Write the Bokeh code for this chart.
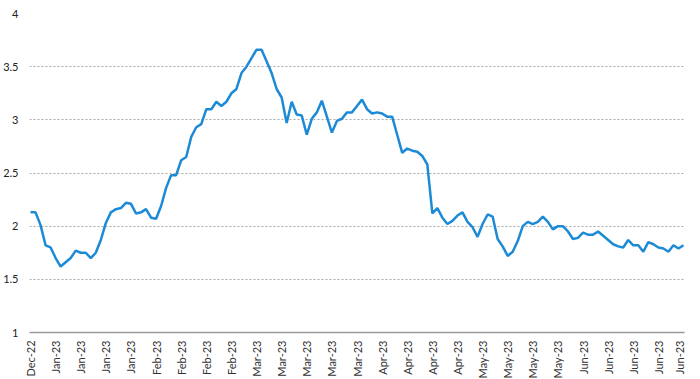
import math
from bokeh.plotting import figure
from bokeh.models import Range1d, FixedTicker, ColumnDataSource
from bokeh.embed import file_html
from bokeh.resources import INLINE

values = [2.13, 2.13, 2.01, 1.82, 1.80, 1.70, 1.62, 1.66, 1.70, 1.77,
          1.75, 1.75, 1.70, 1.75, 1.87, 2.03, 2.13, 2.16, 2.17, 2.22,
          2.21, 2.12, 2.13, 2.16, 2.08, 2.07, 2.19, 2.36, 2.48, 2.48,
          2.62, 2.65, 2.84, 2.93, 2.96, 3.10, 3.10, 3.17, 3.13, 3.17,
          3.25, 3.29, 3.44, 3.50, 3.58, 3.66, 3.66, 3.55, 3.44, 3.29,
          3.21, 2.97, 3.17, 3.05, 3.04, 2.86, 3.01, 3.07, 3.18, 3.03,
          2.88, 2.99, 3.01, 3.07, 3.07, 3.13, 3.19, 3.10, 3.06, 3.07,
          3.06, 3.03, 3.03, 2.86, 2.69, 2.73, 2.71, 2.70, 2.66, 2.58,
          2.12, 2.17, 2.08, 2.02, 2.05, 2.10, 2.13, 2.04, 1.99, 1.90,
          2.02, 2.11, 2.09, 1.88, 1.81, 1.72, 1.76, 1.86, 2.00, 2.04,
          2.02, 2.04, 2.09, 2.04, 1.97, 2.00, 2.00, 1.95, 1.88, 1.89,
          1.94, 1.92, 1.92, 1.95, 1.91, 1.87, 1.83, 1.81, 1.80, 1.87,
          1.82, 1.82, 1.76, 1.85, 1.83, 1.80, 1.79, 1.76, 1.82, 1.79,
          1.82]

tick_labels = ["Dec-22",
               "Jan-23", "Jan-23", "Jan-23", "Jan-23",
               "Feb-23", "Feb-23", "Feb-23", "Feb-23",
               "Mar-23", "Mar-23", "Mar-23", "Mar-23", "Mar-23",
               "Apr-23", "Apr-23", "Apr-23", "Apr-23",
               "May-23", "May-23", "May-23", "May-23",
               "Jun-23", "Jun-23", "Jun-23", "Jun-23", "Jun-23"]
label_step = 5

y_ticks = [1, 1.5, 2, 2.5, 3, 3.5, 4]

xs = list(range(len(values)))
tick_pos = [i * label_step for i in range(len(tick_labels))]

source = ColumnDataSource(data=dict(x=xs, y=values))

p = figure(frame_width=655, frame_height=319, output_backend="svg", toolbar_location=None,
           x_range=Range1d(-0.2, len(values) - 1 + 0.2), y_range=Range1d(1, 4),
           min_border_left=28, min_border_right=1, min_border_top=13, min_border_bottom=0)
p.outline_line_color = None
p.background_fill_color = "white"
p.border_fill_color = "white"

p.line("x", "y", source=source, line_color="#1d8ad6", line_width=2.5)

# x axis
p.xaxis.ticker = FixedTicker(ticks=tick_pos)
p.xaxis.major_label_overrides = {pos: lab for pos, lab in zip(tick_pos, tick_labels)}
p.xaxis.major_label_orientation = math.pi / 2
p.xaxis.major_label_text_font = "Lato"
p.xaxis.major_label_text_font_size = "11px"
p.xaxis.major_label_text_color = "#333333"
p.xaxis.major_label_standoff = 8
p.xaxis.major_tick_out = 0
p.xaxis.major_tick_in = 0
p.xaxis.major_tick_line_color = None
p.xaxis.minor_tick_line_color = None
p.xaxis.axis_line_color = "#9a9a9a"
p.xaxis.axis_line_width = 1.5

# y axis
p.yaxis.ticker = FixedTicker(ticks=y_ticks)
p.yaxis.major_label_text_font = "Lato"
p.yaxis.major_label_text_font_size = "11px"
p.yaxis.major_label_text_color = "#222222"
p.yaxis.major_label_standoff = 11
p.yaxis.major_tick_out = 0
p.yaxis.major_tick_in = 0
p.yaxis.major_tick_line_color = None
p.yaxis.minor_tick_line_color = None
p.yaxis.axis_line_color = None

p.xgrid.grid_line_color = None
p.ygrid.ticker = FixedTicker(ticks=y_ticks[1:])
p.ygrid.grid_line_color = "#a8a8a8"
p.ygrid.grid_line_dash = "2 2"
p.ygrid.grid_line_width = 1

open("out.html", "w").write(file_html(p, INLINE))
